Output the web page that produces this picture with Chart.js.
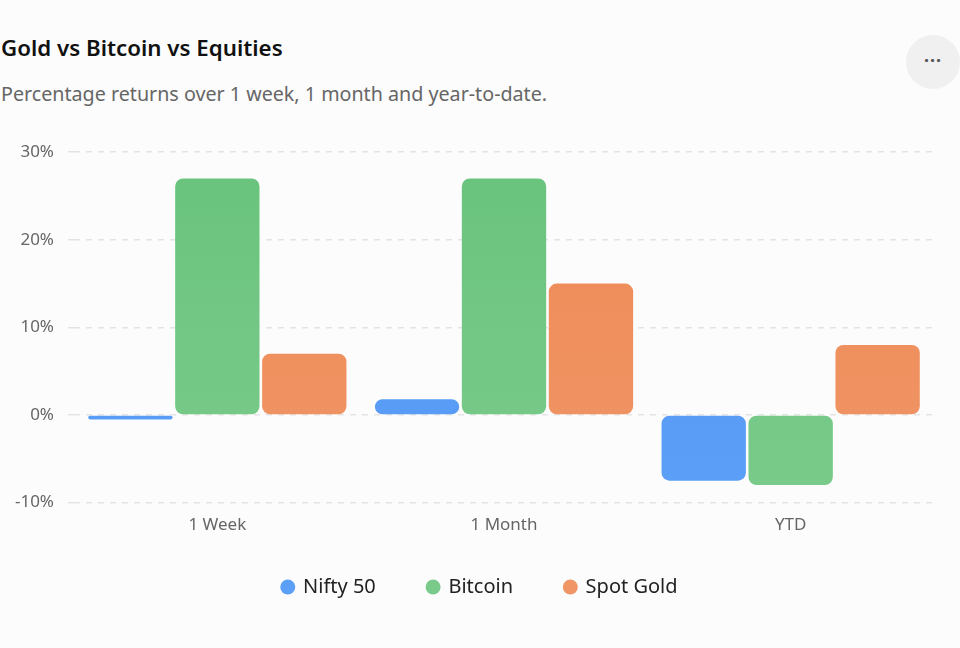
<!DOCTYPE html>
<html>
<head>
<meta charset="utf-8">
<script src="https://cdn.jsdelivr.net/npm/chart.js@4.4.1/dist/chart.umd.min.js"></script>
<style>
  html, body { margin:0; padding:0; background:#fcfcfc; width:960px; height:648px; overflow:hidden; font-family:"Noto Sans", "Open Sans", sans-serif; }
  #title { position:absolute; left:1px; top:33px; font-size:22.3px; font-weight:600; color:#111; line-height:30px; }
  #subtitle { position:absolute; left:1px; top:80px; font-size:19.7px; color:#666; line-height:28px; }
  #menu { position:absolute; left:906px; top:35px; width:54px; height:54px; border-radius:50%; background:#f0f0f0; color:#555; text-align:center; line-height:50px; font-size:18px; font-weight:700; letter-spacing:1px; }
  #wrap { position:absolute; left:0; top:128px; width:960px; height:497px; }
</style>
</head>
<body>
<div id="title">Gold vs Bitcoin vs Equities</div>
<div id="subtitle">Percentage returns over 1 week, 1 month and year-to-date.</div>
<div id="menu">···</div>
<div id="wrap"><canvas id="c"></canvas></div>
<script>
const categories = ["1 Week", "1 Month", "YTD"];
const niftyValues = [-0.5, 1.8, -7.5];
const bitcoinValues = [27.0, 27.0, -8.0];
const goldValues = [7.0, 15.0, 8.0];
const seriesNames = ["Nifty 50", "Bitcoin", "Spot Gold"];
const yTicks = [-10, 0, 10, 20, 30];

const baseColors = [["#4f95f5", "#5c9ff7"], ["#69c37c", "#7acb8b"], ["#ee8a55", "#f09566"]];

function grad(ctx, chartArea, c) {
  const g = ctx.createLinearGradient(0, chartArea.top, 0, chartArea.bottom);
  g.addColorStop(0, c[0]);
  g.addColorStop(1, c[1]);
  return g;
}
function bg(i) {
  return (context) => {
    const chart = context.chart;
    const { ctx, chartArea } = chart;
    if (!chartArea) return baseColors[i][0];
    return grad(ctx, chartArea, baseColors[i]);
  };
}

const legendShift = {
  id: 'legendShift',
  afterLayout(chart) {
    const dy = 14, dx = 13;
    if (chart.legend) {
      chart.legend.top -= dy; chart.legend.bottom -= dy;
      chart.legend.left += dx; chart.legend.right += dx;
    }
  }
};

const ctx = document.getElementById('c');
new Chart(ctx, {
  type: 'bar',
  data: {
    labels: categories,
    datasets: [
      { label: seriesNames[0], data: niftyValues, backgroundColor: bg(0), borderRadius: 8, borderSkipped: false },
      { label: seriesNames[1], data: bitcoinValues, backgroundColor: bg(1), borderRadius: 8, borderSkipped: false },
      { label: seriesNames[2], data: goldValues, backgroundColor: bg(2), borderRadius: 8, borderSkipped: false }
    ]
  },
  plugins: [legendShift],
  options: {
    responsive: true,
    maintainAspectRatio: false,
    animation: false,
    layout: { padding: { left: 0, right: 26, top: 13, bottom: 4 } },
    datasets: { bar: { categoryPercentage: 0.91, barPercentage: 0.97 } },
    plugins: {
      legend: {
        position: 'bottom',
        labels: {
          usePointStyle: true,
          pointStyle: 'circle',
          boxWidth: 10.6,
          boxHeight: 10.6,
          padding: 52,
          color: '#222',
          font: { family: "Noto Sans", size: 20 }
        }
      },
      tooltip: { enabled: false }
    },
    scales: {
      x: {
        grid: { display: false },
        border: { display: false },
        ticks: { color: '#666', font: { family: "Noto Sans", size: 17 }, padding: 4 }
      },
      y: {
        min: -10, max: 30,
        afterFit: (axis) => { axis.width = 74; },
        afterBuildTicks: (axis) => { axis.ticks = yTicks.map(v => ({ value: v })); },
        grid: { color: '#e4e4e4', lineWidth: 1.5, tickLength: 6, tickBorderDash: [6, 6] },
        border: { display: false, dash: [6, 6] },
        ticks: { color: '#666', font: { family: "Noto Sans", size: 17 }, padding: 14, callback: (v) => v + '%' }
      }
    }
  }
});
</script>
</body>
</html>
